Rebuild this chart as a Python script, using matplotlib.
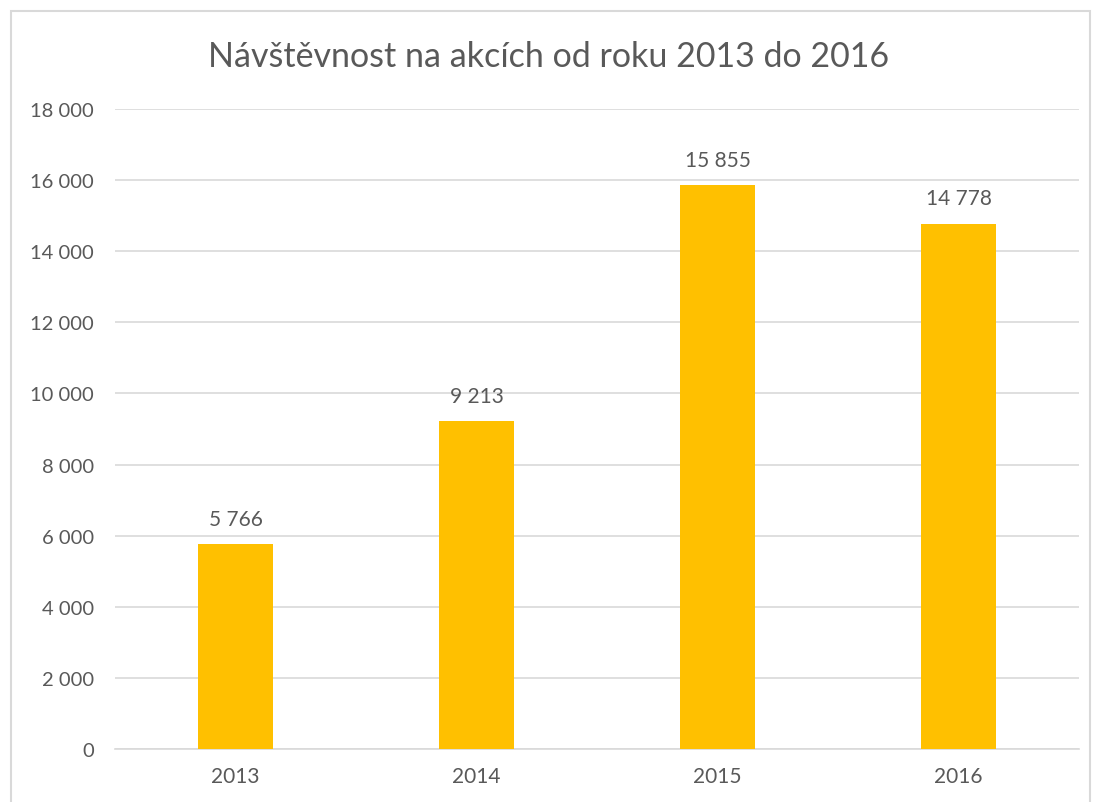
import matplotlib
matplotlib.use("Agg")
import matplotlib.pyplot as plt
from matplotlib.patches import Rectangle

# data
years = ["2013", "2014", "2015", "2016"]
visitors = [5766, 9213, 15855, 14778]
yticks = list(range(0, 18001, 2000))

text_col = "#595959"
grid_col = "#D9D9D9"
bar_col = "#FFC000"

plt.rcParams["font.family"] = ["Lato", "DejaVu Sans"]


def fmt(v):
    # thousands separated by a space, as in the original
    return f"{v:,}".replace(",", " ")


fig = plt.figure(figsize=(10.97, 8.03), dpi=100)
ax = fig.add_axes([115 / 1097, 1 - 750 / 803, (1079 - 115) / 1097, (750 - 110) / 803])

x = range(len(years))
bars = ax.bar(x, visitors, width=0.315, color=bar_col, zorder=3)

for b, v in zip(bars, visitors):
    ax.annotate(fmt(v), (b.get_x() + b.get_width() / 2, v),
                xytext=(0, 11), textcoords="offset points",
                ha="center", va="bottom", fontsize=15, color=text_col)

ax.set_xlim(-0.5, len(years) - 0.5)
ax.set_ylim(0, 18000)
ax.set_yticks(yticks)
ax.set_yticklabels([fmt(t) for t in yticks])
ax.set_xticks(list(x))
ax.set_xticklabels(years)
ax.tick_params(axis="both", length=0, labelsize=14.5, labelcolor=text_col)
ax.tick_params(axis="x", labelsize=15, pad=12)
ax.tick_params(axis="y", pad=15)

ax.grid(axis="y", color=grid_col, linewidth=1.2, zorder=0)
for s in ["top", "right", "left"]:
    ax.spines[s].set_visible(False)
ax.spines["bottom"].set_color(grid_col)
ax.spines["bottom"].set_linewidth(1.2)

fig.text(0.5, 1 - 57 / 803, "Návštěvnost na akcích od roku 2013 do 2016",
         ha="center", va="center", fontsize=24.5, color=text_col)

# chart frame
fig.patches.append(Rectangle((11 / 1097, -0.05), (1090 - 11) / 1097, 1.05 - 12 / 803,
                             transform=fig.transFigure, fill=False,
                             edgecolor=grid_col, linewidth=1.5))

fig.savefig("out.png", dpi=100)
